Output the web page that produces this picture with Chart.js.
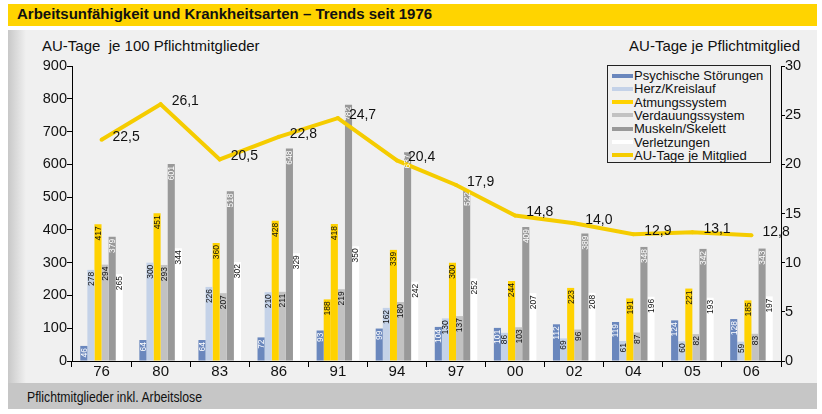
<!DOCTYPE html>
<html>
<head>
<meta charset="utf-8">
<script src="https://cdn.jsdelivr.net/npm/chart.js@4.4.1/dist/chart.umd.min.js"></script>
<style>
  body { margin: 0; background: #fff; font-family: "Liberation Sans", Arial, sans-serif; }
  #wrap { position: relative; width: 822px; height: 414px; overflow: hidden; }
  .abs { position: absolute; }
  #titleBar { left: 8px; top: 4px; width: 809px; height: 22px; background: #ffd400; }
  #title { left: 17px; top: 5px; font-weight: bold; font-size: 15px; color: #111; }
  #panel { left: 8px; top: 30px; width: 809px; height: 353px; background: #f0f0f0; }
  #stripe { left: 8px; top: 30px; width: 18px; height: 353px; background: linear-gradient(to right, #c8c8c8, #f0f0f0); }
  #bottom { left: 8px; top: 383px; width: 809px; height: 26px; background: #c6c6c6; }
  #foot { left: 27px; top: 389px; font-size: 14px; color: #111; transform: scaleX(0.875); transform-origin: left top; white-space: nowrap; }
  #ytitle { left: 42px; top: 37px; font-size: 15px; color: #111; white-space: pre; }
  #y2title { right: 22px; top: 37px; font-size: 15px; color: #111; }
  #legend { left: 607px; top: 65px; width: 162px; height: 96px; border: 1px solid #222; background: #f0f0f0; }
  .item { position: absolute; left: 4px; height: 14px; font-size: 13px; color: #111; line-height: 14px; white-space: nowrap; }
  .sw { display: inline-block; width: 21px; height: 4px; vertical-align: middle; margin-right: 1px; position: relative; top: -1px; }
  canvas { position: absolute; left: 0; top: 0; }
</style>
</head>
<body>
<div id="wrap">
  <div id="titleBar" class="abs"></div>
  <div id="title" class="abs">Arbeitsunfähigkeit und Krankheitsarten – Trends seit 1976</div>
  <div id="panel" class="abs"></div>
  <div id="stripe" class="abs"></div>
  <div id="bottom" class="abs"></div>
  <div id="foot" class="abs">Pflichtmitglieder inkl. Arbeitslose</div>
  <div id="ytitle" class="abs">AU-Tage  je 100 Pflichtmitglieder</div>
  <div id="y2title" class="abs">AU-Tage je Pflichtmitglied</div>
  <canvas id="chart" width="822" height="414"></canvas>
  <div id="legend" class="abs"></div>
</div>
<script>
const years = ['76', '80', '83', '86', '91', '94', '97', '00', '02', '04', '05', '06'];
const psychisch = [46, 64, 64, 72, 93, 99, 104, 101, 112, 119, 124, 128];
const herzKreislauf = [278, 300, 226, 210, 188, 162, 130, 86, 69, 61, 60, 59];
const atmung = [417, 451, 360, 428, 418, 339, 300, 244, 223, 191, 221, 185];
const verdauung = [294, 293, 207, 211, 219, 180, 137, 103, 96, 87, 82, 83];
const muskelSkelett = [379, 601, 518, 648, 782, 637, 522, 409, 389, 348, 342, 343];
const verletzungen = [265, 344, 302, 329, 350, 242, 252, 207, 208, 196, 193, 197];
const auTageJeMitglied = [22.5, 26.1, 20.5, 22.8, 24.7, 20.4, 17.9, 14.8, 14.0, 12.9, 13.1, 12.8];
const leftTicks = [0, 100, 200, 300, 400, 500, 600, 700, 800, 900];
const rightTicks = [0, 5, 10, 15, 20, 25, 30];

const BLUE = '#6a87bd', LIGHTBLUE = '#c4d2e8', YELLOW = '#ffd200',
      LIGHTGRAY = '#c2c2c2', DARKGRAY = '#999999', WHITE = '#ffffff', LINE = '#f5cc00';
const FONT = '"Liberation Sans", Arial, sans-serif';

// 1991 bar of Herz/Kreislauf is yellow in the original
const herzColors = herzKreislauf.map((v, i) => i === 4 ? YELLOW : LIGHTBLUE);

function barSet(label, data, color, labelColor) {
  return { label: label, data: data, backgroundColor: color, legendColor: Array.isArray(color) ? LIGHTBLUE : color,
           labelColor: labelColor, yAxisID: 'y', order: 2,
           categoryPercentage: 0.72, barPercentage: 1.0 };
}

const datasets = [
  barSet('Psychische Störungen', psychisch, BLUE, '#fff'),
  barSet('Herz/Kreislauf', herzKreislauf, herzColors, '#111'),
  barSet('Atmungssystem', atmung, YELLOW, '#111'),
  barSet('Verdauungssystem', verdauung, LIGHTGRAY, '#111'),
  barSet('Muskeln/Skelett', muskelSkelett, DARKGRAY, '#fff'),
  barSet('Verletzungen', verletzungen, WHITE, '#111'),
  { type: 'line', label: 'AU-Tage je Mitglied', data: auTageJeMitglied, yAxisID: 'y2', order: 1,
    borderColor: LINE, backgroundColor: LINE, legendColor: LINE, borderWidth: 4,
    pointRadius: 2, pointBackgroundColor: LINE, pointBorderWidth: 0, tension: 0 }
];

const valueLabels = {
  id: 'valueLabels',
  afterDatasetsDraw(chart) {
    const ctx = chart.ctx;
    chart.data.datasets.forEach((ds, i) => {
      const meta = chart.getDatasetMeta(i);
      meta.data.forEach((el, j) => {
        ctx.save();
        if (ds.type === 'line') {
          ctx.font = '14px ' + FONT;
          ctx.fillStyle = '#111';
          ctx.textAlign = 'left';
          ctx.textBaseline = 'middle';
          ctx.fillText(ds.data[j].toFixed(1).replace('.', ','), el.x + 11, el.y - 3);
        } else {
          ctx.translate(el.x + 0.5, el.y + 2);
          ctx.rotate(-Math.PI / 2);
          ctx.font = '8.5px ' + FONT;
          ctx.fillStyle = ds.labelColor;
          ctx.textAlign = 'right';
          ctx.textBaseline = 'middle';
          ctx.fillText(String(ds.data[j]), 0, 0);
        }
        ctx.restore();
      });
    });
  }
};

new Chart(document.getElementById('chart'), {
  type: 'bar',
  data: { labels: years, datasets: datasets },
  options: {
    responsive: false,
    animation: false,
    events: [],
    layout: { padding: { top: 66, left: 0, right: 0, bottom: 0 } },
    plugins: { legend: { display: false }, tooltip: { enabled: false } },
    scales: {
      x: {
        offset: true,
        grid: { display: true, drawOnChartArea: false, offset: true, tickLength: 6, color: '#000' },
        border: { color: '#000' },
        ticks: { color: '#111', font: { size: 15, family: FONT }, padding: -4 },
        afterFit: s => { s.height = 53; }
      },
      y: {
        position: 'left', min: 0, max: 900,
        afterBuildTicks: s => { s.ticks = leftTicks.map(v => ({ value: v })); },
        grid: { drawOnChartArea: false, tickLength: 5, color: '#000' },
        border: { color: '#000' },
        ticks: { color: '#111', font: { size: 14.5, family: FONT }, padding: 0 },
        afterFit: s => { s.width = 72; }
      },
      y2: {
        position: 'right', min: 0, max: 30,
        afterBuildTicks: s => { s.ticks = rightTicks.map(v => ({ value: v })); },
        grid: { drawOnChartArea: false, tickLength: 4, color: '#000' },
        border: { color: '#000' },
        ticks: { color: '#111', font: { size: 14.5, family: FONT }, padding: 0 },
        afterFit: s => { s.width = 41; }
      }
    }
  },
  plugins: [valueLabels]
});

// legend drawn as html, from the dataset list
const legend = document.getElementById('legend');
datasets.forEach((ds, i) => {
  const item = document.createElement('div');
  item.className = 'item';
  item.style.top = (3 + i * 13.3) + 'px';
  const sw = document.createElement('span');
  sw.className = 'sw';
  sw.style.background = ds.legendColor;
  item.append(sw);
  item.append(document.createTextNode(ds.label));
  legend.append(item);
});
</script>
</body>
</html>
